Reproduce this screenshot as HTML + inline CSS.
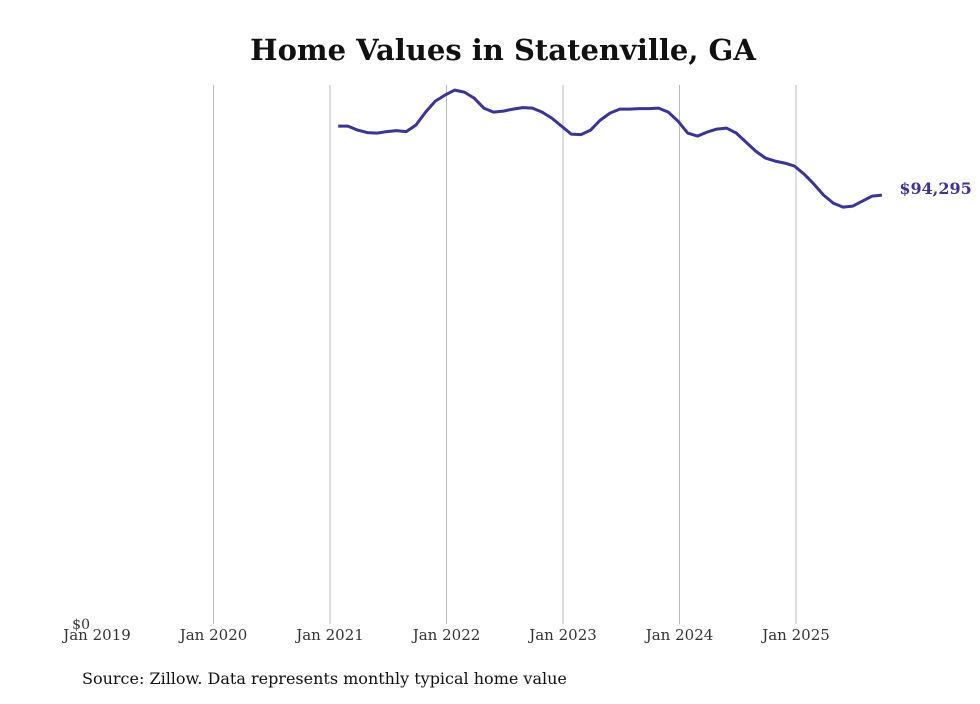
<!DOCTYPE html>
<html><head><meta charset="utf-8"><style>
body{margin:0;background:#fff;}
svg text{font-family:"DejaVu Serif","Liberation Serif",serif;}
</style></head><body>
<svg width="980" height="699" id="chart">
<text x="503" y="60" text-anchor="middle" font-size="29" font-weight="bold" fill="#111">Home Values in Statenville, GA</text>
<g id="grid"></g><g id="xlabels"></g>
<text x="90" y="629" text-anchor="end" font-size="14" fill="#333">$0</text>
<path id="line" fill="none" stroke="#3b3494" stroke-width="3" stroke-linejoin="round"/>
<text id="endlabel" font-size="16" font-weight="bold" fill="#3b3494"></text>
<text x="82" y="684" font-size="16" fill="#111">Source: Zillow. Data represents monthly typical home value</text>
</svg>
<script>
const tickLabels=["Jan 2019","Jan 2020","Jan 2021","Jan 2022","Jan 2023","Jan 2024","Jan 2025"];
const startMonthIndex=25; // Feb 2021, months since Jan 2019
const values=[109460,109460,108580,108030,107920,108250,108470,108250,109680,112540,114950,116270,117370,116930,115610,113420,112540,112760,113200,113530,113420,112540,111220,109460,107700,107590,108580,110780,112320,113200,113200,113310,113310,113420,112540,110560,107920,107260,108140,108800,109020,107920,105940,103960,102420,101760,101320,100660,98900,96710,94290,92530,91650,91870,92970,94070,94295];
const endLabel="$94,295";
const x0=97,pxPerMonth=116.5/12,yBase=624,yTop=85,yMax=118500;
const xs=m=>x0+m*pxPerMonth;
const ys=v=>yBase-(v/yMax)*(yBase-yTop);
const ns="http://www.w3.org/2000/svg";
const grid=document.getElementById('grid'),xl=document.getElementById('xlabels');
tickLabels.forEach((t,i)=>{
  const x=xs(i*12);
  if(i>0){const l=document.createElementNS(ns,'line');
    l.setAttribute('x1',x);l.setAttribute('x2',x);l.setAttribute('y1',yTop);l.setAttribute('y2',yBase);
    l.setAttribute('stroke','#bbb');l.setAttribute('stroke-width','1');
    
    
    grid.appendChild(l);}
  const tx=document.createElementNS(ns,'text');
  tx.setAttribute('x',x);tx.setAttribute('y',640);tx.setAttribute('text-anchor','middle');
  tx.setAttribute('font-size','15');tx.setAttribute('fill','#333');tx.textContent=t;
  
  
  xl.appendChild(tx);
});
let d='';
values.forEach((v,i)=>{d+=(i?'L':'M')+(xs(startMonthIndex+i)-1.5).toFixed(1)+','+ys(v).toFixed(1);});
document.getElementById('line').setAttribute('d',d);
const last=values.length-1;
const el=document.getElementById('endlabel');
el.setAttribute('x',xs(startMonthIndex+last)+16);
el.setAttribute('y',ys(values[last])-1);
el.textContent=endLabel;
</script>
</body></html>
